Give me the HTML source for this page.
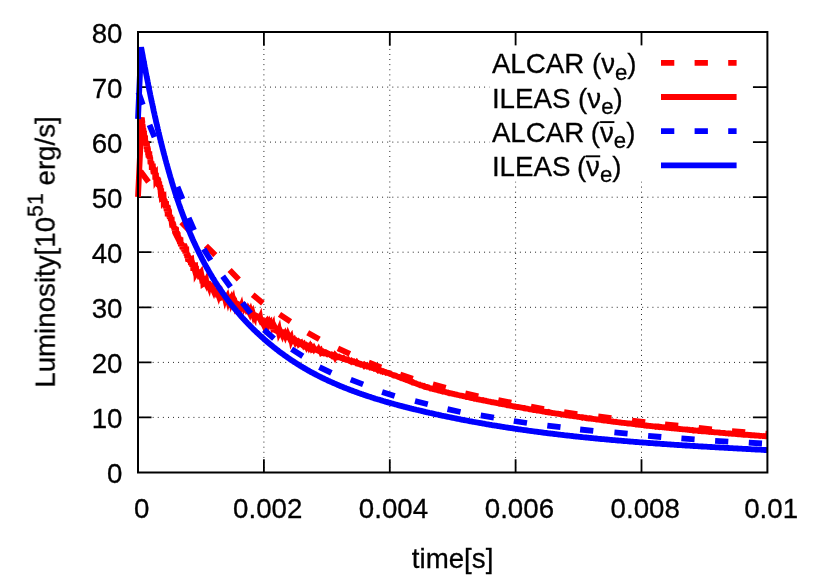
<!DOCTYPE html>
<html lang="en">
<head>
<meta charset="utf-8">
<title>Luminosity vs time</title>
<style>
html,body{margin:0;padding:0;background:#fff;}
body{width:830px;height:581px;overflow:hidden;font-family:"Liberation Sans",sans-serif;}
svg{display:block;}
</style>
</head>
<body>
<svg width="830" height="581" viewBox="0 0 830 581">
<rect width="830" height="581" fill="#fff"/>
<g stroke="#000" stroke-width="1" stroke-dasharray="0.85 4.25" fill="none">
<path d="M263.9 473.1V32"/>
<path d="M389.8 473.1V32"/>
<path d="M515.6 473.1V32"/>
<path d="M641.5 473.1V32"/>
<path d="M137.4 417.4H767.4"/>
<path d="M137.4 362.4H767.4"/>
<path d="M137.4 307.3H767.4"/>
<path d="M137.4 252.2H767.4"/>
<path d="M137.4 197.2H767.4"/>
<path d="M137.4 142.1H767.4"/>
<path d="M137.4 87.1H767.4"/>
</g>
<g stroke="#000" stroke-width="1.8" fill="none">
<path d="M263.9 472.5v-13.3 M263.9 32v13.8"/>
<path d="M389.8 472.5v-13.3 M389.8 32v13.8"/>
<path d="M515.6 472.5v-13.3 M515.6 32v13.8"/>
<path d="M641.5 472.5v-13.3 M641.5 32v13.8"/>
<path d="M138 417.4h13.5 M767.4 417.4h-14.5"/>
<path d="M138 362.4h13.5 M767.4 362.4h-14.5"/>
<path d="M138 307.3h13.5 M767.4 307.3h-14.5"/>
<path d="M138 252.2h13.5 M767.4 252.2h-14.5"/>
<path d="M138 197.2h13.5 M767.4 197.2h-14.5"/>
<path d="M138 142.1h13.5 M767.4 142.1h-14.5"/>
<path d="M138 87.1h13.5 M767.4 87.1h-14.5"/>
</g>
<clipPath id="pc"><rect x="120" y="0" width="647.4" height="581"/></clipPath>
<g fill="none" stroke-width="5.8" stroke-linecap="butt" clip-path="url(#pc)">
<path stroke="#ff0000" d="M140.5 171.3L148.5 181.9 M181.4 222.2L190.6 231.8 M205.9 245.7L215.3 255.1 M229.6 270L238.8 279.6 M252.7 294.7L262.9 303.3 M279.5 314.3L290.5 321.7 M307.7 332.7L319.3 339.3 M337.9 348.3L349.9 353.9 M368.7 362.5L381.1 367.5 M400.2 374.5L412.8 378.7 M432.9 384.3L445.7 387.9 M465.3 393.3L478.3 396.3 M498.3 400L511.3 402.6 M531 406.6L544 409 M564.1 412.2L577.3 414 M598.2 416.5L611.4 418.1 M632 420.6L645.2 422.2 M665 424.3L678.2 425.7 M698.7 428L711.9 429.4 M732 431.1L745.2 432.1 M765.4 433.7L778.6 434.7"/>
<polyline stroke="#ff0000" stroke-linejoin="miter" stroke-miterlimit="4" points="138,197 141.8,117.2 141.8,117.7 141.9,118.2 141.9,118.7 142,119.1 142,119.7 142.1,120.2 142.1,120.3 142.2,121.5 142.2,121.9 142.3,122 142.3,122.6 142.4,123.4 142.4,123.6 142.5,124.1 142.6,123.9 142.6,125.5 142.7,125.8 142.8,126.4 142.8,125.6 142.9,128.4 143,127.8 143,127.8 143.1,130.4 143.2,129.1 143.3,128.3 143.3,129.7 143.4,128.4 143.5,132.2 143.6,131.2 143.7,131.3 143.8,133.8 143.9,131.1 143.9,134.2 144,131.5 144.1,133.7 144.2,133.5 144.3,137.5 144.4,138.5 144.5,136 144.6,138.2 144.7,137.2 144.8,138.9 144.9,137.3 145,136.1 145.1,136.4 145.2,140.6 145.3,144.4 145.4,141.4 145.5,140.4 145.7,145.5 145.8,142.8 145.9,143.1 146,143.9 146.1,143.5 146.2,143.6 146.3,141.7 146.5,146.4 146.6,145.5 146.7,149 146.8,145.9 147,142.6 147.1,147.4 147.2,152.3 147.3,147.7 147.5,147 147.6,146.7 147.7,147.5 147.8,149.8 148,148.2 148.1,155.3 148.2,151.3 148.4,152.8 148.5,156.6 148.6,157.2 148.8,153.4 148.9,155.3 149,156.8 149.2,154.9 149.3,151.4 149.5,158 149.6,159.1 149.7,158.4 149.9,155.5 150,157.8 150.2,157.3 150.3,158.5 150.4,163 150.6,164.1 150.7,162.4 150.9,162.5 151,163.3 151.2,162.1 151.3,162.4 151.5,161.3 151.6,163.4 151.8,169.8 151.9,166.7 152.1,164.1 152.2,164.2 152.4,163.7 152.5,167.4 152.7,167.9 152.8,163.6 153,169.1 153.1,166.8 153.3,172.5 153.4,169.7 153.6,174.2 153.7,169 153.9,169.9 154.1,171.9 154.2,174.4 154.4,173.6 154.5,169.3 154.7,173.5 154.8,173.6 155,172.9 155.1,172.8 155.3,179.6 155.5,174.4 155.6,173.7 155.8,178.1 155.9,177.2 156.1,177.1 156.2,179.9 156.4,179.6 156.6,179.7 156.7,181.8 156.9,180.5 157,178.5 157.2,179.7 157.4,179.7 157.5,182.2 157.7,179.1 157.8,177.6 158,183.3 158.1,179.9 158.3,178.6 158.5,185.5 158.6,183 158.8,186.8 158.9,184.4 159.1,183.3 159.3,183.4 159.4,185.9 159.6,187 159.7,186 159.9,187.9 160.1,184.9 160.2,189.7 160.4,185.2 160.5,190.1 160.7,193 160.9,194.6 161,196.8 161.2,188.2 161.3,195.1 161.5,196.8 161.7,196.6 161.8,191.8 162,196 162.2,200.4 162.3,191.7 162.5,197.6 162.6,199.8 162.8,195.3 163,199.3 163.1,195.2 163.3,196.4 163.5,196.9 163.6,200.1 163.8,199.8 164,203.1 164.1,198.4 164.3,201.1 164.5,204.5 164.6,203.9 164.8,199.3 165,205.2 165.1,202.5 165.3,205.3 165.5,205.6 165.6,208.5 165.8,206 166,201.2 166.1,202.9 166.3,209.1 166.5,206.9 166.6,211.1 166.8,209.2 167,207 167.2,212.4 167.3,207.8 167.5,204.9 167.7,216.4 167.8,206.2 168,213.5 168.2,214.8 168.4,213.1 168.5,208.7 168.7,216.4 168.9,210.3 169.1,211 169.2,214.1 169.4,217.6 169.6,216.8 169.8,218.6 169.9,215.8 170.1,216.9 170.3,214.9 170.5,217.5 170.7,220.3 170.8,218.5 171,221 171.2,218.7 171.4,219.1 171.6,221.2 171.8,221.1 171.9,223.6 172.1,223 172.3,227.5 172.5,222.9 172.7,223.3 172.9,221.6 173.1,224.9 173.2,227 173.4,223.8 173.6,226.1 173.8,228.5 174,226.8 174.2,226.2 174.4,230.6 174.6,228.8 174.8,230 175,232.4 175.2,232.8 175.4,229.5 175.5,229.5 175.7,232 175.9,231.4 176.1,227.3 176.3,235.9 176.5,233.1 176.7,235.4 176.9,231 177.1,237.7 177.3,233.4 177.5,235.1 177.7,232.3 177.9,235.9 178.1,236.2 178.4,236.7 178.6,238.8 178.8,238.3 179,241 179.2,237.8 179.4,237 179.6,239.9 179.8,242 180,243.9 180.2,243.3 180.4,237.3 180.7,243.1 180.9,246.3 181.1,243.3 181.3,242.3 181.5,244.8 181.7,243.2 182,246.5 182.2,245.3 182.4,249.2 182.6,247.5 182.8,244.9 183.1,248.6 183.3,249.9 183.5,246.7 183.7,247.5 184,243.4 184.2,251.6 184.4,248.4 184.6,245.1 184.9,246.4 185.1,250.6 185.3,253.5 185.6,251.9 185.8,253.7 186,250.3 186.3,250.2 186.5,256 186.7,255.5 187,254.7 187.2,258.2 187.5,253.3 187.7,255 187.9,258.9 188.2,261.3 188.4,257.4 188.7,261.8 188.9,256.8 189.2,259.5 189.4,258.7 189.7,255.8 189.9,260.6 190.2,262.6 190.4,260.5 190.7,261.1 190.9,265 191.2,259.2 191.4,259.1 191.7,261.5 192,260.7 192.2,267 192.5,265 192.8,262.7 193,263.7 193.3,270.8 193.6,264.6 193.8,264.7 194.1,267.6 194.4,268.7 194.6,268.2 194.9,266 195.2,265.9 195.5,270.3 195.8,269.2 196,266 196.3,272.9 196.6,272.4 196.9,270.5 197.2,270.8 197.5,272.4 197.8,270.7 198,269.6 198.3,273.8 198.6,270.2 198.9,274.7 199.2,271 199.5,274.4 199.8,274.7 200.1,279.4 200.4,273.5 200.7,273.1 201.1,275.2 201.4,274.6 201.7,276.1 202,278.7 202.3,279.8 202.6,282 202.9,277.4 203.3,283.9 203.6,283.7 203.9,279.7 204.2,275.9 204.6,280.7 204.9,281.3 205.2,277.2 205.5,282.1 205.9,281.9 206.2,281.2 206.6,284.2 206.9,285.2 207.2,282.8 207.6,284.5 207.9,283.3 208.3,283.4 208.6,285.3 209,286.4 209.3,284.9 209.7,282.4 210,287.5 210.4,284.2 210.8,287.4 211.1,290.5 211.5,287.8 211.9,286.3 212.2,286.2 212.6,290.7 213,289.1 213.3,290.3 213.7,291.2 214.1,290 214.5,290 214.9,289.4 215.2,287.8 215.6,289.2 216,291.5 216.4,291.7 216.8,292.8 217.2,292.4 217.6,293.1 218,294.2 218.4,292.1 218.8,293.3 219.2,291.7 219.6,295.6 220,294.6 220.4,295.5 220.8,297.2 221.3,296.8 221.7,295.5 222.1,296.9 222.5,294.1 222.9,297 223.4,296.8 223.8,294.6 224.2,299 224.6,296.4 225.1,298.6 225.5,297.3 225.9,299.5 226.4,300.1 226.8,297.5 227.2,296.8 227.7,298.9 228.1,300.5 228.5,299.1 229,299 229.4,300.7 229.9,297.3 230.3,299.6 230.7,298.9 231.2,301.4 231.6,300.2 232.1,299.9 232.5,301.2 233,299.9 233.4,302.1 233.8,301.5 234.3,302.1 234.7,301.9 235.2,304.3 235.6,303.2 236.1,304.3 236.5,304.4 236.9,302.9 237.4,305 237.8,305 238.3,305.2 238.7,304.4 239.1,304.6 239.6,306.6 240,308.7 240.4,304.8 240.9,307 241.3,306 241.7,307.8 242.2,307.6 242.6,308.7 243,304.3 243.5,306.9 243.9,306.6 244.3,308.1 244.7,307.5 245.2,307.9 245.6,310 246,312 246.4,306.4 246.9,309.4 247.3,310.6 247.7,310.4 248.1,310.2 248.5,309 249,309.8 249.4,312.5 249.8,313.3 250.2,312.1 250.6,311.1 251.1,312.7 251.5,312.5 251.9,313.9 252.3,313.6 252.7,312.8 253.1,314.2 253.6,312.5 254,315.7 254.4,316.5 254.8,313.3 255.2,316 255.6,314.2 256,317.5 256.5,317.5 256.9,316.1 257.3,318.2 257.7,316.4 258.1,316.4 258.5,316.8 258.9,317.7 259.3,317.7 259.8,318.7 260.2,317.8 260.6,320.2 261,320.8 261.4,318.8 261.8,317.7 262.2,321.2 262.6,322.1 263.1,320.5 263.5,319.1 263.9,321.7 264.3,323.8 264.7,319.1 265.1,322.8 265.5,322 266,321.5 266.4,323.7 266.8,321.5 267.2,323.9 267.6,325.6 268,324.3 268.4,323.2 268.9,322.3 269.3,323.3 269.7,322.9 270.1,327.5 270.5,325.5 270.9,324.8 271.4,324.8 271.8,325.3 272.2,326.5 272.6,325.7 273,329.3 273.4,326.9 273.9,327.1 274.3,328.6 274.7,330 275.1,330.2 275.5,328.6 276,329.6 276.4,329.7 276.8,330.4 277.2,330.4 277.6,329.5 278.1,329.5 278.5,331.1 278.9,330.1 279.3,332.6 279.7,331.8 280.2,331.1 280.6,332 281,332.1 281.4,332.7 281.9,333.8 282.3,332.1 282.7,332.1 283.2,334.1 283.6,333.9 284,334.4 284.4,334.9 284.9,334.7 285.3,335.7 285.7,334.6 286.2,335.6 286.6,335.2 287,335.2 287.4,336.8 287.9,337 288.3,335.4 288.7,336.3 289.2,337.5 289.6,338.3 290,337.3 290.5,337.9 290.9,337.3 291.4,340 291.8,339.1 292.2,339.6 292.7,339.6 293.1,340 293.6,340.1 294,339.7 294.4,340.6 294.9,340.4 295.3,341.4 295.8,340.4 296.2,340.7 296.6,341.7 297.1,342.3 297.5,341.8 298,341.5 298.4,342.1 298.9,342.1 299.3,343.7 299.8,343.3 300.2,343.7 300.7,343.4 301.1,343.1 301.6,344.3 302,344.7 302.5,344.4 302.9,344.2 303.4,345 303.9,344.5 304.3,345.3 304.8,344.7 305.2,344.8 305.7,345.8 306.1,345.8 306.6,346.8 307.1,345.9 307.5,346.3 308,345.9 308.4,345.7 308.9,345.9 309.4,347.2 309.8,346.6 310.3,347.9 310.8,348.2 311.2,347.6 311.7,348.7 312.2,348.2 312.6,348.8 313.1,348.4 313.6,349.1 314,348.4 314.5,349.3 315,349 315.4,349.3 315.9,349.8 316.4,349.8 316.8,349.8 317.3,350.4 317.8,350.6 318.3,349.8 318.7,350.8 319.2,351 319.7,350.6 320.1,351.2 320.6,350.7 321.1,352 321.6,351.5 322,351.7 322.5,352.4 323,352 323.5,352.5 323.9,352 324.4,352.3 324.9,352.2 325.4,352.8 325.8,353.4 326.3,353.3 326.8,353.7 327.3,353.1 327.7,353.3 328.2,353.6 328.7,354.2 329.2,354.3 329.7,354.3 330.1,354.7 330.6,354.5 331.1,354.7 331.6,355.3 332,354.9 332.5,355.3 333,355.9 333.5,355.6 334,355.9 334.4,355.6 334.9,356.6 335.4,355.4 335.9,355.9 336.4,356.1 336.8,357.1 337.3,356.8 337.8,356.8 338.3,356.7 338.7,357.3 339.2,357.4 339.7,357.3 340.2,357.2 340.7,357.5 341.1,358 341.6,358.2 342.1,358.3 342.6,358.3 343,358.1 343.5,358.7 344,358.6 344.5,359 345,359.3 345.4,359.1 345.9,359.2 346.4,359.8 346.9,359.8 347.3,359.7 347.8,359.5 348.3,360.2 348.8,360.5 349.3,360.8 349.7,360.5 350.2,360.6 350.7,360.8 351.2,361.3 351.6,360.9 352.1,361.3 352.6,361.3 353.1,361.7 353.5,361.5 354,362.1 354.5,362 355,362.2 355.5,362.5 355.9,362.8 356.4,362.3 356.9,363.1 357.4,363.2 357.8,363.1 358.3,363.6 358.8,363.5 359.3,363.9 359.7,363.6 360.2,363.7 360.7,364.3 361.2,364.7 361.6,364.5 362.1,364.7 362.6,364.6 363.1,364.5 363.5,364.9 364,365.5 364.5,364.9 365,365.3 365.4,365.2 365.9,365.8 366.4,366.1 366.9,365.8 367.3,366.1 367.8,366.6 368.3,366.5 368.8,366.4 369.2,366.6 369.7,366.6 370.2,367.3 370.7,367.1 371.1,367.6 371.6,367.7 372.1,367.6 372.6,367.8 373,368.2 373.5,368.2 374,368.4 374.5,368.2 374.9,368.8 375.4,368.7 375.9,368.6 376.4,369 376.8,369.4 377.3,369.8 377.8,369.5 378.2,369.5 378.7,370.3 379.2,370.1 379.7,370.2 380.1,370.2 380.6,370.4 381.1,371 381.6,370.8 382,371 382.5,371.1 383,371.6 383.4,371.4 383.9,371.8 384.4,371.9 384.9,372 385.3,372 385.8,372.4 386.3,372.8 386.8,372.7 387.2,372.7 387.7,372.8 388.2,373.2 388.6,373.3 389.1,373.5 389.6,373.7 390.1,373.6 390.5,374.1 391,374.2 391.5,374.3 391.9,374.5 392.4,374.8 392.9,374.8 393.3,374.9 393.8,375.4 394.3,375.3 394.8,375.4 395.2,375.5 395.7,375.9 396.2,375.9 396.6,376.1 397.1,376.4 397.6,376.6 398,376.9 398.5,377 399,377 399.4,377.2 399.9,377.4 400.4,377.7 400.8,377.8 401.3,377.9 401.8,378.3 402.2,378.3 402.7,378.4 403.2,378.5 403.6,378.9 404.1,379.1 404.6,379.2 405,379.4 405.5,379.5 406,379.7 406.4,380 406.9,380.1 407.4,380.3 407.8,380.4 408.3,380.7 408.8,380.9 409.2,380.9 409.7,381.3 410.2,381.5 410.6,381.7 411.1,381.7 411.6,381.9 412,382 412.5,382.4 413,382.2 413.5,382.6 413.9,382.8 414.4,383.1 414.9,383.2 415.3,383.2 415.8,383.3 416.3,383.6 416.7,383.9 417.2,384 417.7,384.2 418.1,384.3 418.6,384.5 419.1,384.8 419.6,384.7 420,385 420.5,385.4 421,385.4 421.5,385.4 421.9,385.7 422.4,385.7 422.9,386 423.4,386.3 423.8,386.5 424.3,386.2 424.8,386.6 425.3,386.9 425.7,386.8 426.2,387 426.7,387.3 427.2,387.2 427.6,387.5 428.1,387.6 428.6,387.5 429.1,387.9 429.6,388 430,388.2 430.5,388.5 431,388.5 431.5,388.5 432,388.7 432.4,388.8 432.9,389 433.4,388.9 433.9,389.1 434.4,389.1 434.9,389.5 435.3,389.6 435.8,389.6 436.3,389.7 436.8,389.9 437.3,390 437.8,390.2 438.2,390.3 438.7,390.6 439.2,390.6 439.7,390.6 440.2,390.7 440.7,391 441.2,391.1 441.6,391.2 442.1,391.3 442.6,391.6 443.1,391.4 443.6,391.5 444.1,391.6 444.6,391.9 445,391.9 445.5,392 446,392.1 446.5,392.4 447,392.4 447.5,392.5 448,392.8 448.5,392.7 448.9,392.8 449.4,393.2 449.9,393.1 450.4,393.2 450.9,393.3 451.4,393.4 451.9,393.6 452.4,393.7 452.8,393.8 453.3,393.9 453.8,393.9 454.3,394.1 454.8,394.4 455.3,394.4 455.8,394.4 456.3,394.6 456.7,394.6 457.2,394.8 457.7,394.8 458.2,395 458.7,395.1 459.2,395.2 459.7,395.4 460.2,395.6 460.7,395.6 461.1,395.6 461.6,395.7 462.1,395.8 462.6,395.9 463.1,396.1 463.6,396.2 464.1,396.3 464.6,396.4 465,396.5 465.5,396.6 466,396.7 466.5,397 467,397 467.5,397 468,397.1 468.5,397.2 469,397.4 469.4,397.6 469.9,397.7 470.4,397.8 470.9,397.9 471.4,398 471.9,398 472.4,398.1 472.9,398.2 473.4,398.2 473.8,398.4 474.3,398.7 474.8,398.6 475.3,398.7 475.8,398.9 476.3,398.9 476.8,399 477.3,399.3 477.8,399.3 478.2,399.4 478.7,399.4 479.2,399.6 479.7,399.7 480.2,399.8 480.7,399.9 481.2,400 481.7,400.1 482.2,400.2 482.7,400.1 483.1,400.4 483.6,400.5 484.1,400.5 484.6,400.6 485.1,400.7 485.6,400.7 486.1,401 486.6,401.1 487.1,401.1 487.6,401.2 488,401.4 488.5,401.5 489,401.6 489.5,401.6 490,401.7 490.5,401.8 491,402 491.5,402.2 492,402.2 492.5,402.4 492.9,402.4 493.4,402.3 493.9,402.5 494.4,402.6 494.9,402.8 495.4,402.9 495.9,402.8 496.4,403 496.9,403.1 497.4,403.1 497.8,403.2 498.3,403.3 498.8,403.5 499.3,403.5 499.8,403.8 500.3,403.8 500.8,403.9 501.3,404.1 501.8,404 502.3,404.1 502.8,404.3 503.2,404.2 503.7,404.4 504.2,404.5 504.7,404.6 505.2,404.6 505.7,404.8 506.2,404.9 506.7,405.1 507.2,404.9 507.7,405.3 508.2,405.3 508.7,405.3 509.1,405.3 509.6,405.6 510.1,405.6 510.6,405.7 511.1,405.9 511.6,405.9 512.1,406 512.6,406.1 513.1,406.2 513.6,406.4 514.1,406.5 514.6,406.5 515,406.5 515.5,406.8 516,406.8 516.5,406.8 517,406.8 517.5,407 518,407 518.5,407.1 519,407.1 519.5,407.3 520,407.4 520.5,407.4 520.9,407.5 521.4,407.7 521.9,407.7 522.4,407.8 522.9,407.9 523.4,407.9 523.9,408.2 524.4,408.1 524.9,408.4 525.4,408.5 525.9,408.4 526.4,408.6 526.9,408.6 527.3,408.6 527.8,408.8 528.3,408.9 528.8,409 529.3,409.2 529.8,409.1 530.3,409.2 530.8,409.4 531.3,409.5 531.8,409.3 532.3,409.7 532.8,409.7 533.3,409.9 533.7,409.8 534.2,409.9 534.7,410 535.2,410.2 535.7,410.2 536.2,410.1 536.7,410.4 537.2,410.3 537.7,410.4 538.2,410.5 538.7,410.5 539.2,410.7 539.7,410.8 540.2,410.9 540.6,411 541.1,411.1 541.6,411.1 542.1,411.2 542.6,411.4 543.1,411.5 543.6,411.5 544.1,411.6 544.6,411.7 545.1,411.8 545.6,412 546.1,411.9 546.6,412 547.1,412.2 547.6,412.3 548,412.3 548.5,412.1 549,412.4 549.5,412.3 550,412.6 550.5,412.6 551,412.7 551.5,412.8 552,413 552.5,412.9 553,413.1 553.5,413.1 554,413.2 554.5,413.3 555,413.3 555.5,413.3 555.9,413.5 556.4,413.6 556.9,413.6 557.4,413.8 557.9,413.9 558.4,413.8 558.9,413.9 559.4,414 559.9,414 560.4,414.2 560.9,414.2 561.4,414.3 561.9,414.4 562.4,414.5 562.9,414.6 563.4,414.8 563.9,414.7 564.3,414.8 564.8,414.8 565.3,415 565.8,415.1 566.3,415.2 566.8,415.1 567.3,415.2 567.8,415.4 568.3,415.4 568.8,415.5 569.3,415.5 569.8,415.7 570.3,415.8 570.8,415.8 571.3,415.8 571.8,415.9 572.3,416 572.8,416.1 573.2,416.1 573.7,416.2 574.2,416.3 574.7,416.4 575.2,416.3 575.7,416.4 576.2,416.4 576.7,416.6 577.2,416.6 577.7,416.8 578.2,416.8 578.7,416.9 579.2,416.9 579.7,417.1 580.2,417.1 580.7,417.2 581.2,417.2 581.7,417.4 582.2,417.3 582.6,417.6 583.1,417.4 583.6,417.6 584.1,417.6 584.6,417.8 585.1,417.7 585.6,418 586.1,417.9 586.6,418.2 587.1,418.1 587.6,418.2 588.1,418.3 588.6,418.5 589.1,418.5 589.6,418.3 590.1,418.6 590.6,418.6 591.1,418.5 591.6,418.8 592.1,418.7 592.6,418.9 593,418.9 593.5,418.9 594,419.1 594.5,419.1 595,419.2 595.5,419.2 596,419.3 596.5,419.5 597,419.5 597.5,419.5 598,419.6 598.5,419.6 599,419.7 599.5,419.8 600,419.9 600.5,419.9 601,420 601.5,420.1 602,420.2 602.5,420.1 603,420.3 603.5,420.3 604,420.5 604.4,420.5 604.9,420.5 605.4,420.6 605.9,420.5 606.4,420.6 606.9,420.8 607.4,420.9 607.9,421 608.4,420.9 608.9,420.9 609.4,421.1 609.9,421.2 610.4,421.3 610.9,421.3 611.4,421.4 611.9,421.5 612.4,421.5 612.9,421.5 613.4,421.7 613.9,421.6 614.4,421.7 614.9,421.9 615.4,421.9 615.9,421.8 616.4,422.1 616.8,422.1 617.3,422.2 617.8,422.2 618.3,422.3 618.8,422.3 619.3,422.3 619.8,422.5 620.3,422.4 620.8,422.5 621.3,422.6 621.8,422.8 622.3,422.8 622.8,422.8 623.3,422.8 623.8,422.9 624.3,423 624.8,422.9 625.3,423.1 625.8,423.1 626.3,423.1 626.8,423.2 627.3,423.4 627.8,423.5 628.3,423.4 628.8,423.5 629.3,423.5 629.8,423.7 630.3,423.7 630.7,423.6 631.2,423.8 631.7,423.9 632.2,423.8 632.7,423.9 633.2,424.1 633.7,424 634.2,424.1 634.7,424.2 635.2,424.3 635.7,424.2 636.2,424.5 636.7,424.5 637.2,424.6 637.7,424.6 638.2,424.6 638.7,424.7 639.2,424.6 639.7,424.7 640.2,424.8 640.7,424.9 641.2,425 641.7,424.9 642.2,425 642.7,425 643.2,425.1 643.7,425.3 644.2,425.3 644.7,425.5 645.2,425.5 645.7,425.4 646.2,425.4 646.7,425.7 647.1,425.6 647.6,425.6 648.1,425.8 648.6,425.8 649.1,425.8 649.6,425.9 650.1,426 650.6,426 651.1,426.1 651.6,426.1 652.1,426.1 652.6,426.3 653.1,426.3 653.6,426.4 654.1,426.4 654.6,426.4 655.1,426.4 655.6,426.7 656.1,426.5 656.6,426.7 657.1,426.6 657.6,426.8 658.1,426.9 658.6,426.7 659.1,426.9 659.6,426.8 660.1,427.1 660.6,427 661.1,427 661.6,427.1 662.1,427.3 662.6,427.4 663.1,427.4 663.6,427.3 664.1,427.4 664.6,427.6 665.1,427.5 665.5,427.6 666,427.6 666.5,427.6 667,427.8 667.5,427.8 668,427.9 668.5,427.9 669,428 669.5,428.1 670,428.1 670.5,428.1 671,428.1 671.5,428.3 672,428.2 672.5,428.2 673,428.3 673.5,428.4 674,428.5 674.5,428.6 675,428.5 675.5,428.6 676,428.6 676.5,428.6 677,428.7 677.5,428.8 678,428.9 678.5,428.8 679,428.9 679.5,429.1 680,429 680.5,429.2 681,429.2 681.5,429.2 682,429.2 682.5,429.3 683,429.3 683.5,429.4 684,429.4 684.5,429.4 685,429.5 685.5,429.6 686,429.5 686.5,429.7 686.9,429.7 687.4,429.6 687.9,429.8 688.4,429.8 688.9,429.9 689.4,429.8 689.9,430.1 690.4,430.1 690.9,430.2 691.4,430.2 691.9,430.1 692.4,430.3 692.9,430.2 693.4,430.5 693.9,430.3 694.4,430.5 694.9,430.4 695.4,430.4 695.9,430.5 696.4,430.7 696.9,430.7 697.4,430.7 697.9,430.6 698.4,430.9 698.9,430.8 699.4,431 699.9,431.1 700.4,431 700.9,431.1 701.4,431 701.9,431.3 702.4,431.2 702.9,431.3 703.4,431.2 703.9,431.3 704.4,431.3 704.9,431.4 705.4,431.4 705.9,431.5 706.4,431.6 706.9,431.6 707.4,431.6 707.9,431.7 708.4,431.8 708.9,431.7 709.4,431.9 709.9,431.7 710.4,431.8 710.9,431.9 711.4,431.9 711.8,432.2 712.3,432.2 712.8,432 713.3,432.1 713.8,432.2 714.3,432.3 714.8,432.3 715.3,432.3 715.8,432.3 716.3,432.3 716.8,432.3 717.3,432.4 717.8,432.5 718.3,432.6 718.8,432.5 719.3,432.7 719.8,432.8 720.3,432.7 720.8,432.8 721.3,432.9 721.8,432.9 722.3,432.9 722.8,432.9 723.3,433 723.8,433 724.3,433 724.8,433.2 725.3,433.2 725.8,433.3 726.3,433.4 726.8,433.4 727.3,433.4 727.8,433.4 728.3,433.4 728.8,433.6 729.3,433.4 729.8,433.5 730.3,433.5 730.8,433.6 731.3,433.7 731.8,433.8 732.3,433.7 732.8,433.6 733.3,433.8 733.8,433.9 734.3,433.9 734.8,433.9 735.3,434 735.8,434.1 736.3,434 736.8,434 737.3,434.1 737.8,434.2 738.3,434.1 738.8,434.3 739.3,434.2 739.7,434.4 740.2,434.4 740.7,434.4 741.2,434.5 741.7,434.4 742.2,434.5 742.7,434.6 743.2,434.7 743.7,434.6 744.2,434.6 744.7,434.8 745.2,434.8 745.7,434.9 746.2,434.8 746.7,434.9 747.2,434.9 747.7,434.8 748.2,435 748.7,435.1 749.2,435 749.7,435 750.2,435.1 750.7,435.3 751.2,435.2 751.7,435.3 752.2,435.2 752.7,435.3 753.2,435.3 753.7,435.2 754.2,435.4 754.7,435.5 755.2,435.4 755.7,435.5 756.2,435.6 756.7,435.5 757.2,435.6 757.7,435.6 758.2,435.7 758.7,435.8 759.2,435.7 759.7,435.8 760.2,436 760.7,435.9 761.2,435.9 761.7,435.9 762.2,436 762.7,436.1 763.2,436.1 763.7,436 764.2,436.2 764.7,436.2 765.2,436.3 765.7,436.2 766.2,436.2 766.7,436.3 767.2,436.3 767.3,436.4"/>
<path stroke="#0000ff" d="M138.4 92.2L142.8 104.8 M149.5 124.8L154.5 137.2 M177.5 186.8L182.5 199.2 M188.7 217.9L194.1 230.1 M203.7 248.9L210.7 260.3 M222.7 276.2L230.5 287 M242.3 302.8L250.7 313.2 M264 329.8L274 338.6 M291.6 349.1L302.8 356.3 M319.4 367.1L331.4 372.9 M350.7 379.6L363.1 384.4 M382.1 391.9L394.7 395.9 M415 401L427.8 404.2 M447.5 409.2L460.5 412 M480.7 415.4L493.9 417.6 M513.8 421L527 423 M547.3 425.6L560.5 427.2 M580.1 429.5L593.3 430.9 M614.4 432.4L627.6 433.6 M648.1 435.8L661.3 437 M681.4 438.3L694.6 439.3 M715.1 440.8L728.3 441.6 M748.8 442.7L762 443.5"/>
<polyline stroke="#0000ff" stroke-linejoin="bevel" points="138,119 141.1,47.2 141.3,48.2 141.5,49.2 141.7,50.2 141.8,51.1 142,52.1 142.2,53.1 142.4,54.1 142.6,55.1 142.8,56.1 142.9,57 143.1,58 143.3,59 143.5,60 143.7,61 143.9,62 144.1,62.9 144.2,63.9 144.4,64.9 144.6,65.9 144.8,66.9 145,67.8 145.2,68.8 145.4,69.8 145.6,70.8 145.7,71.8 145.9,72.7 146.1,73.7 146.3,74.7 146.5,75.7 146.7,76.7 146.9,77.6 147.1,78.6 147.3,79.6 147.5,80.6 147.7,81.6 147.9,82.5 148.1,83.5 148.2,84.5 148.4,85.5 148.6,86.5 148.8,87.4 149,88.4 149.2,89.4 149.4,90.4 149.6,91.3 149.8,92.3 150,93.3 150.2,94.3 150.4,95.3 150.6,96.2 150.8,97.2 151,98.2 151.2,99.2 151.4,100.1 151.6,101.1 151.9,102.1 152.1,103.1 152.3,104 152.5,105 152.7,106 152.9,107 153.1,107.9 153.3,108.9 153.5,109.9 153.7,110.9 153.9,111.8 154.2,112.8 154.4,113.8 154.6,114.8 154.8,115.7 155,116.7 155.2,117.7 155.5,118.7 155.7,119.6 155.9,120.6 156.1,121.6 156.3,122.6 156.6,123.5 156.8,124.5 157,125.5 157.2,126.4 157.5,127.4 157.7,128.4 157.9,129.4 158.1,130.3 158.4,131.3 158.6,132.3 158.8,133.2 159.1,134.2 159.3,135.2 159.5,136.2 159.8,137.1 160,138.1 160.2,139.1 160.5,140 160.7,141 160.9,142 161.2,142.9 161.4,143.9 161.7,144.9 161.9,145.8 162.2,146.8 162.4,147.8 162.6,148.8 162.9,149.7 163.1,150.7 163.4,151.7 163.6,152.6 163.9,153.6 164.2,154.6 164.4,155.5 164.7,156.5 164.9,157.5 165.2,158.4 165.4,159.4 165.7,160.4 166,161.3 166.2,162.3 166.5,163.3 166.8,164.2 167,165.2 167.3,166.2 167.6,167.1 167.8,168.1 168.1,169 168.4,170 168.6,171 168.9,171.9 169.2,172.9 169.5,173.9 169.8,174.8 170,175.8 170.3,176.8 170.6,177.7 170.9,178.7 171.2,179.6 171.5,180.6 171.7,181.6 172,182.5 172.3,183.5 172.6,184.5 172.9,185.4 173.2,186.4 173.5,187.3 173.8,188.3 174.1,189.2 174.4,190.2 174.7,191.2 175,192.1 175.3,193.1 175.6,194 175.9,195 176.3,195.9 176.6,196.9 176.9,197.9 177.2,198.8 177.5,199.8 177.8,200.7 178.2,201.7 178.5,202.6 178.8,203.6 179.1,204.5 179.5,205.5 179.8,206.4 180.1,207.4 180.5,208.3 180.8,209.3 181.1,210.2 181.5,211.1 181.8,212.1 182.2,213 182.5,214 182.9,214.9 183.2,215.9 183.6,216.8 183.9,217.7 184.3,218.7 184.6,219.6 185,220.5 185.4,221.5 185.7,222.4 186.1,223.3 186.4,224.3 186.8,225.2 187.2,226.1 187.6,227.1 187.9,228 188.3,228.9 188.7,229.9 189.1,230.8 189.5,231.7 189.9,232.6 190.2,233.5 190.6,234.5 191,235.4 191.4,236.3 191.8,237.2 192.2,238.1 192.6,239.1 193,240 193.4,240.9 193.8,241.8 194.3,242.7 194.7,243.6 195.1,244.5 195.5,245.4 195.9,246.3 196.4,247.2 196.8,248.1 197.2,249 197.6,249.9 198.1,250.8 198.5,251.7 198.9,252.6 199.4,253.5 199.8,254.4 200.3,255.3 200.7,256.2 201.2,257.1 201.6,258 202.1,258.9 202.5,259.8 203,260.6 203.5,261.5 203.9,262.4 204.4,263.3 204.9,264.2 205.4,265 205.8,265.9 206.3,266.8 206.8,267.6 207.3,268.5 207.8,269.4 208.3,270.2 208.8,271.1 209.3,272 209.8,272.8 210.3,273.7 210.8,274.5 211.3,275.4 211.8,276.3 212.3,277.1 212.8,278 213.3,278.8 213.9,279.6 214.4,280.5 214.9,281.3 215.4,282.2 216,283 216.5,283.8 217.1,284.7 217.6,285.5 218.1,286.3 218.7,287.2 219.2,288 219.8,288.8 220.4,289.7 220.9,290.5 221.5,291.3 222.1,292.1 222.6,292.9 223.2,293.7 223.8,294.5 224.4,295.4 224.9,296.2 225.5,297 226.1,297.8 226.7,298.6 227.3,299.4 227.9,300.2 228.5,301 229.1,301.7 229.7,302.5 230.3,303.3 231,304.1 231.6,304.9 232.2,305.7 232.8,306.5 233.5,307.2 234.1,308 234.7,308.8 235.4,309.5 236,310.3 236.6,311.1 237.3,311.8 237.9,312.6 238.6,313.3 239.2,314.1 239.9,314.9 240.6,315.6 241.2,316.4 241.9,317.1 242.5,317.8 243.2,318.6 243.9,319.3 244.6,320.1 245.3,320.8 245.9,321.5 246.6,322.2 247.3,323 248,323.7 248.7,324.4 249.4,325.1 250.1,325.8 250.8,326.6 251.5,327.3 252.2,328 252.9,328.7 253.6,329.4 254.3,330.1 255.1,330.8 255.8,331.5 256.5,332.2 257.2,332.8 258,333.5 258.7,334.2 259.4,334.9 260.2,335.6 260.9,336.2 261.6,336.9 262.4,337.6 263.1,338.3 263.9,338.9 264.6,339.6 265.4,340.2 266.1,340.9 266.9,341.5 267.7,342.2 268.4,342.8 269.2,343.5 270,344.1 270.7,344.7 271.5,345.4 272.3,346 273,346.6 273.8,347.3 274.6,347.9 275.4,348.5 276.2,349.1 277,349.7 277.8,350.3 278.6,351 279.3,351.6 280.1,352.2 280.9,352.8 281.7,353.3 282.6,353.9 283.4,354.5 284.2,355.1 285,355.7 285.8,356.3 286.6,356.8 287.4,357.4 288.2,358 289.1,358.5 289.9,359.1 290.7,359.7 291.5,360.2 292.4,360.8 293.2,361.3 294,361.9 294.9,362.4 295.7,362.9 296.6,363.5 297.4,364 298.2,364.5 299.1,365.1 299.9,365.6 300.8,366.1 301.6,366.6 302.5,367.1 303.3,367.6 304.2,368.1 305.1,368.6 305.9,369.1 306.8,369.6 307.6,370.1 308.5,370.6 309.4,371.1 310.2,371.6 311.1,372.1 312,372.5 312.9,373 313.7,373.5 314.6,373.9 315.5,374.4 316.4,374.9 317.3,375.3 318.2,375.8 319,376.2 319.9,376.7 320.8,377.1 321.7,377.6 322.6,378 323.5,378.4 324.4,378.9 325.3,379.3 326.2,379.7 327.1,380.1 328,380.6 328.9,381 329.8,381.4 330.7,381.8 331.6,382.2 332.5,382.6 333.4,383 334.3,383.4 335.3,383.8 336.2,384.2 337.1,384.6 338,385 338.9,385.4 339.8,385.8 340.8,386.2 341.7,386.5 342.6,386.9 343.5,387.3 344.5,387.7 345.4,388 346.3,388.4 347.3,388.8 348.2,389.1 349.1,389.5 350,389.9 351,390.2 351.9,390.6 352.9,390.9 353.8,391.3 354.7,391.6 355.7,391.9 356.6,392.3 357.6,392.6 358.5,393 359.4,393.3 360.4,393.6 361.3,394 362.3,394.3 363.2,394.6 364.2,394.9 365.1,395.3 366.1,395.6 367,395.9 368,396.2 368.9,396.5 369.9,396.8 370.8,397.1 371.8,397.5 372.8,397.8 373.7,398.1 374.7,398.4 375.6,398.7 376.6,399 377.6,399.3 378.5,399.5 379.5,399.8 380.4,400.1 381.4,400.4 382.4,400.7 383.3,401 384.3,401.3 385.3,401.6 386.2,401.8 387.2,402.1 388.2,402.4 389.1,402.7 390.1,402.9 391.1,403.2 392,403.5 393,403.7 394,404 395,404.3 395.9,404.5 396.9,404.8 397.9,405.1 398.8,405.3 399.8,405.6 400.8,405.8 401.8,406.1 402.7,406.4 403.7,406.6 404.7,406.9 405.7,407.1 406.6,407.4 407.6,407.6 408.6,407.8 409.6,408.1 410.5,408.3 411.5,408.6 412.5,408.8 413.5,409.1 414.5,409.3 415.4,409.5 416.4,409.8 417.4,410 418.4,410.2 419.3,410.5 420.3,410.7 421.3,410.9 422.3,411.2 423.3,411.4 424.2,411.6 425.2,411.9 426.2,412.1 427.2,412.3 428.2,412.5 429.1,412.8 430.1,413 431.1,413.2 432.1,413.4 433.1,413.6 434,413.9 435,414.1 436,414.3 437,414.5 438,414.7 438.9,414.9 439.9,415.1 440.9,415.4 441.9,415.6 442.9,415.8 443.8,416 444.8,416.2 445.8,416.4 446.8,416.6 447.8,416.8 448.8,417 449.7,417.2 450.7,417.4 451.7,417.6 452.7,417.8 453.7,418 454.6,418.2 455.6,418.4 456.6,418.6 457.6,418.8 458.6,419 459.6,419.2 460.5,419.4 461.5,419.6 462.5,419.8 463.5,420 464.5,420.1 465.5,420.3 466.4,420.5 467.4,420.7 468.4,420.9 469.4,421.1 470.4,421.3 471.4,421.4 472.3,421.6 473.3,421.8 474.3,422 475.3,422.2 476.3,422.3 477.3,422.5 478.2,422.7 479.2,422.9 480.2,423 481.2,423.2 482.2,423.4 483.2,423.6 484.2,423.7 485.1,423.9 486.1,424.1 487.1,424.3 488.1,424.4 489.1,424.6 490.1,424.8 491.1,424.9 492,425.1 493,425.3 494,425.4 495,425.6 496,425.7 497,425.9 498,426.1 498.9,426.2 499.9,426.4 500.9,426.5 501.9,426.7 502.9,426.9 503.9,427 504.9,427.2 505.8,427.3 506.8,427.5 507.8,427.6 508.8,427.8 509.8,427.9 510.8,428.1 511.8,428.2 512.8,428.4 513.7,428.5 514.7,428.7 515.7,428.8 516.7,429 517.7,429.1 518.7,429.3 519.7,429.4 520.7,429.5 521.6,429.7 522.6,429.8 523.6,430 524.6,430.1 525.6,430.2 526.6,430.4 527.6,430.5 528.6,430.7 529.6,430.8 530.5,430.9 531.5,431.1 532.5,431.2 533.5,431.3 534.5,431.5 535.5,431.6 536.5,431.7 537.5,431.9 538.5,432 539.4,432.1 540.4,432.2 541.4,432.4 542.4,432.5 543.4,432.6 544.4,432.8 545.4,432.9 546.4,433 547.4,433.1 548.4,433.3 549.3,433.4 550.3,433.5 551.3,433.6 552.3,433.7 553.3,433.9 554.3,434 555.3,434.1 556.3,434.2 557.3,434.3 558.3,434.5 559.2,434.6 560.2,434.7 561.2,434.8 562.2,434.9 563.2,435 564.2,435.2 565.2,435.3 566.2,435.4 567.2,435.5 568.2,435.6 569.2,435.7 570.2,435.8 571.1,435.9 572.1,436 573.1,436.1 574.1,436.3 575.1,436.4 576.1,436.5 577.1,436.6 578.1,436.7 579.1,436.8 580.1,436.9 581.1,437 582.1,437.1 583,437.2 584,437.3 585,437.4 586,437.5 587,437.6 588,437.7 589,437.8 590,437.9 591,438 592,438.1 593,438.2 594,438.3 595,438.4 596,438.5 597,438.6 597.9,438.7 598.9,438.8 599.9,438.9 600.9,439 601.9,439.1 602.9,439.2 603.9,439.2 604.9,439.3 605.9,439.4 606.9,439.5 607.9,439.6 608.9,439.7 609.9,439.8 610.9,439.9 611.9,440 612.9,440.1 613.8,440.1 614.8,440.2 615.8,440.3 616.8,440.4 617.8,440.5 618.8,440.6 619.8,440.7 620.8,440.7 621.8,440.8 622.8,440.9 623.8,441 624.8,441.1 625.8,441.2 626.8,441.2 627.8,441.3 628.8,441.4 629.8,441.5 630.8,441.6 631.8,441.7 632.8,441.7 633.8,441.8 634.7,441.9 635.7,442 636.7,442 637.7,442.1 638.7,442.2 639.7,442.3 640.7,442.4 641.7,442.4 642.7,442.5 643.7,442.6 644.7,442.7 645.7,442.7 646.7,442.8 647.7,442.9 648.7,443 649.7,443 650.7,443.1 651.7,443.2 652.7,443.2 653.7,443.3 654.7,443.4 655.7,443.5 656.7,443.5 657.7,443.6 658.7,443.7 659.7,443.7 660.7,443.8 661.6,443.9 662.6,444 663.6,444 664.6,444.1 665.6,444.2 666.6,444.2 667.6,444.3 668.6,444.4 669.6,444.4 670.6,444.5 671.6,444.6 672.6,444.6 673.6,444.7 674.6,444.8 675.6,444.8 676.6,444.9 677.6,445 678.6,445 679.6,445.1 680.6,445.2 681.6,445.2 682.6,445.3 683.6,445.3 684.6,445.4 685.6,445.5 686.6,445.5 687.6,445.6 688.6,445.7 689.6,445.7 690.6,445.8 691.6,445.8 692.6,445.9 693.6,446 694.6,446 695.6,446.1 696.6,446.2 697.6,446.2 698.6,446.3 699.6,446.3 700.6,446.4 701.6,446.5 702.6,446.5 703.6,446.6 704.6,446.6 705.6,446.7 706.6,446.7 707.6,446.8 708.6,446.9 709.6,446.9 710.6,447 711.6,447 712.6,447.1 713.6,447.2 714.6,447.2 715.6,447.3 716.6,447.3 717.6,447.4 718.6,447.4 719.6,447.5 720.6,447.6 721.6,447.6 722.6,447.7 723.6,447.7 724.6,447.8 725.6,447.8 726.6,447.9 727.6,447.9 728.6,448 729.6,448.1 730.6,448.1 731.6,448.2 732.5,448.2 733.5,448.3 734.5,448.3 735.6,448.4 736.6,448.4 737.6,448.5 738.6,448.6 739.6,448.6 740.6,448.7 741.6,448.7 742.6,448.8 743.6,448.8 744.6,448.9 745.6,448.9 746.6,449 747.6,449 748.6,449.1 749.6,449.1 750.6,449.2 751.6,449.3 752.6,449.3 753.6,449.4 754.6,449.4 755.6,449.5 756.6,449.5 757.6,449.6 758.6,449.6 759.6,449.7 760.6,449.7 761.6,449.8 762.6,449.8 763.6,449.9 764.6,450 765.6,450 766.6,450.1 767.3,450.1"/>
</g>
<rect x="489.5" y="45.5" width="263" height="136" fill="#fff"/>
<g fill="none" stroke-width="5.8">
<path stroke="#ff0000" stroke-dasharray="13.3 20.3" d="M661 62.8H736.6"/>
<path stroke="#ff0000" d="M661 97H736.6"/>
<path stroke="#0000ff" stroke-dasharray="13.3 20.3" d="M661 131.2H736.6"/>
<path stroke="#0000ff" d="M661 165.4H736.6"/>
</g>
<rect x="138" y="32" width="629.4" height="440.5" fill="none" stroke="#000" stroke-width="2"/>
<g font-family="'Liberation Sans', sans-serif" font-size="27.7" fill="#000" stroke="#000" stroke-width="0.3" opacity="0.999">
<text x="122.5" y="482.9" text-anchor="end">0</text>
<text x="122.5" y="427.9" text-anchor="end">10</text>
<text x="122.5" y="372.9" text-anchor="end">20</text>
<text x="122.5" y="317.9" text-anchor="end">30</text>
<text x="122.5" y="262.9" text-anchor="end">40</text>
<text x="122.5" y="207.9" text-anchor="end">50</text>
<text x="122.5" y="152.9" text-anchor="end">60</text>
<text x="122.5" y="97.9" text-anchor="end">70</text>
<text x="122.5" y="42.9" text-anchor="end">80</text>
<text x="141.8" y="517.8" text-anchor="middle">0</text>
<text x="267.7" y="517.8" text-anchor="middle">0.002</text>
<text x="393.5" y="517.8" text-anchor="middle">0.004</text>
<text x="519.4" y="517.8" text-anchor="middle">0.006</text>
<text x="645.2" y="517.8" text-anchor="middle">0.008</text>
<text x="771.1" y="517.8" text-anchor="middle">0.01</text>
<text x="452.6" y="568.4" text-anchor="middle">time[s]</text>
<text transform="translate(54.7 252) rotate(-90)" text-anchor="middle">Luminosity[10<tspan font-size="21.3" dy="-11.7">51</tspan><tspan dy="11.7"> erg/s]</tspan></text>
<text x="491.9" y="73.3">ALCAR <tspan dx="0">(ν</tspan><tspan font-size="22.2" dy="6.2">e</tspan><tspan dy="-6.2">)</tspan></text>
<text x="491.9" y="107.5">ILEAS <tspan dx="0">(ν</tspan><tspan font-size="22.2" dy="6.2">e</tspan><tspan dy="-6.2">)</tspan></text>
<text x="491.9" y="141.7">ALCAR <tspan dx="-1.2">(ν</tspan><tspan font-size="22.2" dy="6.2">e</tspan><tspan dy="-6.2">)</tspan></text>
<text x="491.9" y="175.9">ILEAS <tspan dx="-1.2">(ν</tspan><tspan font-size="22.2" dy="6.2">e</tspan><tspan dy="-6.2">)</tspan></text>
</g>
<g stroke="#000" stroke-width="1.9" fill="none">
<path d="M600.1 122.1H614.4"/>
<path d="M585.9 156.3H600.2"/>
</g>
</svg>
</body>
</html>
